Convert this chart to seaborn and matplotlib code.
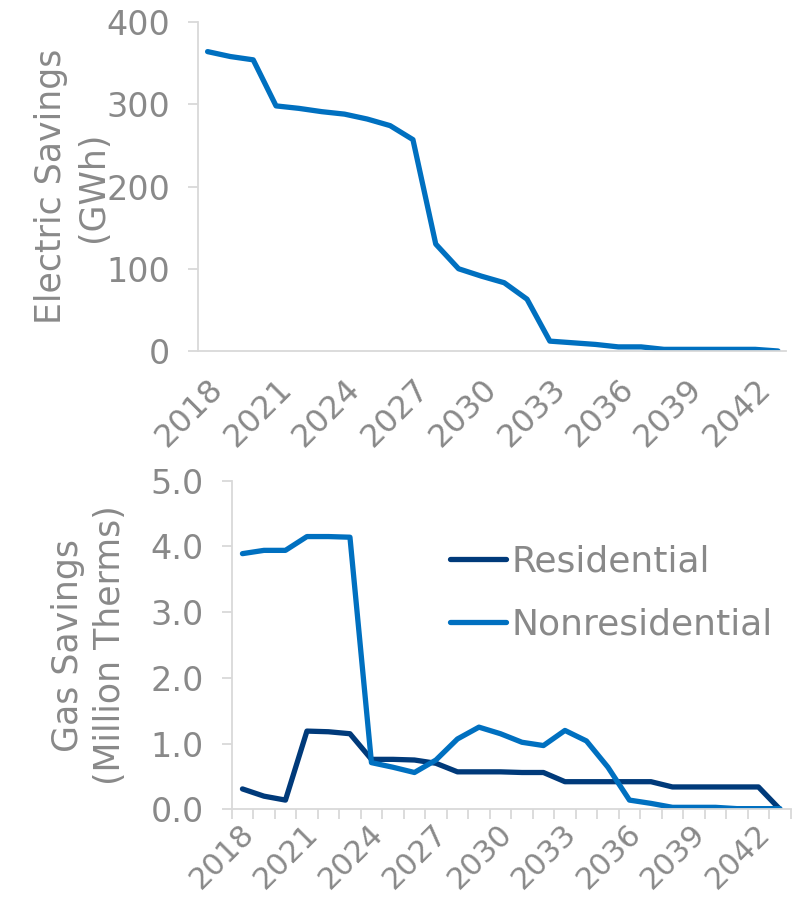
import matplotlib
matplotlib.use("Agg")
import matplotlib.pyplot as plt
import matplotlib.transforms as mtransforms
import seaborn as sns
import pandas as pd
import numpy as np

years = list(range(2018, 2044))
electric_gwh = [364, 358, 354, 298, 295, 291, 288, 282, 274, 257, 130, 100, 91, 83,
                63, 12, 10, 8, 5, 5, 2, 2, 2, 2, 2, 0]
residential = [0.31, 0.20, 0.14, 1.19, 1.18, 1.15, 0.76, 0.76, 0.75, 0.70, 0.57, 0.57,
               0.57, 0.56, 0.56, 0.42, 0.42, 0.42, 0.42, 0.42, 0.34, 0.34, 0.34, 0.34,
               0.34, 0.0]
nonresidential = [3.89, 3.94, 3.94, 4.15, 4.15, 4.14, 0.71, 0.64, 0.56, 0.75, 1.07, 1.25,
                  1.15, 1.02, 0.97, 1.20, 1.04, 0.64, 0.14, 0.09, 0.03, 0.03, 0.03, 0.01,
                  0.01, 0.01]
label_years = list(range(2018, 2044, 3))

sns.set_style("white")
plt.rcParams['font.family'] = ['DejaVu Sans']

GRAY_TXT = "#898989"
GRAY_AX = "#D9D9D9"
C_NONRES = "#0070C0"
C_RES = "#003A7A"
LW = 3.8
TICK_LEN = 7.2  # points (~10 px)

fig = plt.figure(figsize=(8, 9.02), dpi=100)
ax1 = fig.add_axes([198/800, 1-351/902, (786-198)/800, (351-22)/902])
ax2 = fig.add_axes([231.7/800, 1-809.3/902, (790.7-231.7)/800, (809.3-480.7)/902])

df_e = pd.DataFrame({"year": years, "gwh": electric_gwh})
sns.lineplot(data=df_e, x="year", y="gwh", ax=ax1, color=C_NONRES, lw=LW)

df_g = pd.DataFrame({"year": years * 2,
                     "value": residential + nonresidential,
                     "sector": ["Residential"] * len(years) + ["Nonresidential"] * len(years)})
sns.lineplot(data=df_g, x="year", y="value", hue="sector", ax=ax2,
             palette={"Residential": C_RES, "Nonresidential": C_NONRES}, lw=LW)

ax1.set_xlim(2017.58, 2043.35)
ax2.set_xlim(2017.5, 2043.5)

for ax, dx, xpad, xfs in ((ax1, 11, 24, 23), (ax2, 7, 14, 22)):
    for s in ("top", "right"):
        ax.spines[s].set_visible(False)
    for s in ("left", "bottom"):
        ax.spines[s].set_color(GRAY_AX)
        ax.spines[s].set_linewidth(1.3)
    ax.set_xticks(label_years)
    ax.set_xticklabels([str(y) for y in label_years], rotation=45, ha="right",
                       va="center", rotation_mode="anchor", color=GRAY_TXT, fontsize=xfs)
    ax.tick_params(axis="y", colors=GRAY_AX, labelcolor=GRAY_TXT, labelsize=24,
                   length=TICK_LEN, width=1.3, left=True, direction="out", pad=13)
    ax.tick_params(axis="x", which="major", length=0, pad=xpad)
    offset = mtransforms.ScaledTranslation(dx/100, 0, fig.dpi_scale_trans)
    for lab in ax.get_xticklabels():
        lab.set_transform(lab.get_transform() + offset)
    ax.set_xlabel("")

ax1.set_ylim(0, 400)
ax1.set_yticks([0, 100, 200, 300, 400])
ax1.set_ylabel("Electric Savings\n(GWh)", color=GRAY_TXT, fontsize=25, linespacing=1.3)
ax1.yaxis.set_label_coords(-0.15, 0.5)

ax2.set_ylim(0, 5)
ax2.set_yticks([0, 1, 2, 3, 4, 5])
ax2.set_yticklabels([f"{v:.1f}" for v in [0, 1, 2, 3, 4, 5]])
ax2.set_xticks(np.arange(2017.5, 2044, 1.0), minor=True)
ax2.tick_params(axis="x", which="minor", length=TICK_LEN, width=1.3, color=GRAY_AX, bottom=True)
ax2.set_ylabel("Gas Savings\n(Million Therms)", color=GRAY_TXT, fontsize=25, linespacing=1.3)
ax2.yaxis.set_label_coords(-0.187, 0.5)

handles, labels = ax2.get_legend_handles_labels()
leg = ax2.legend(handles, labels, loc="center left", bbox_to_anchor=(450/800, 1-593/902),
                 bbox_transform=fig.transFigure, frameon=False, fontsize=26,
                 handlelength=1.55, handletextpad=0.15, labelspacing=0.8,
                 borderaxespad=0, borderpad=0)
for t in leg.get_texts():
    t.set_color(GRAY_TXT)
for l in leg.get_lines():
    l.set_linewidth(LW)
    l.set_solid_capstyle("round")

fig.savefig("out.png", dpi=100)
